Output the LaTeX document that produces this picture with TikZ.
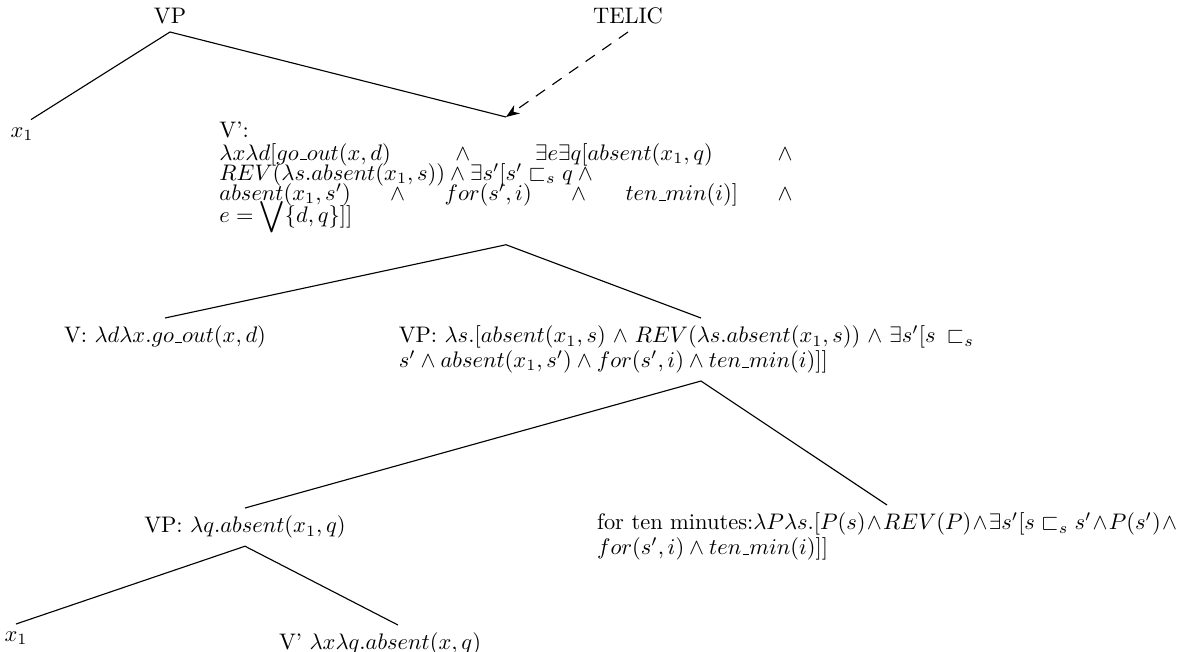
\documentclass[tikz,border=0pt]{standalone}
\usepackage{amsmath}
\usepackage{amssymb}
\usetikzlibrary{arrows.meta,positioning,calc}
\newcommand{\semtight}{\lineskiplimit=-6pt\relax\relpenalty=10000\relax\binoppenalty=10000\relax}
\newcommand{\us}{\kern.06em\vbox{\hrule width.3em}}

\begin{document}
\begin{tikzpicture}[x=0.445pt, y=-0.445pt,
    every node/.style={inner sep=3.3pt},
    branch/.style={line width=0.5pt},
    semtext/.style={align=left, font=\fontsize{10}{9}\selectfont}]
    \useasboundingbox (0,0) rectangle (1182,651);
    % Top of the tree
    \node[anchor=south] (vp) at (170,32) {VP};
    \node[anchor=south] (telic) at (628,32) {TELIC};
    \node (xa) at (22,134) {$x_1$};
    % V' with its full meaning
    \node[semtext, text width=255pt, inner ysep=2pt, anchor=north] (vbar) at (506,117) {\semtight V':\\[1pt]
        $\lambda x\lambda d[go\us out(x,d)$\hfill$\wedge$\hfill$\exists e\exists q[absent(x_1,q)$\hfill$\wedge$\\
        $REV(\lambda s.absent(x_1,s))\wedge\exists s'[s'\sqsubset_s q\wedge{}$\\
        $absent(x_1,s')$\hfill$\wedge$\hfill$for(s',i)$\hfill$\wedge$\hfill$ten\us min(i)]$\hfill$\wedge$\\[-1pt]
        $e=\smash{\displaystyle\bigvee}\{d,q\}]]$};
    \coordinate (vbarroot) at ([yshift=-5pt]vbar.south);
    % Second level
    \node[anchor=north] (vgo) at (165,318) {V: $\lambda d\lambda x.go\us out(x,d)$};
    \node[semtext, text width=261pt, anchor=north] (vps) at (692,318) {\semtight\makebox[\hsize][s]{VP: $\lambda s.[absent(x_1,s)\wedge REV(\lambda s.absent(x_1,s))\wedge\exists s'[s\sqsubset_s{}$}\\
        $s'\wedge absent(x_1,s')\wedge for(s',i)\wedge ten\us min(i)]]$};
    % Third level
    \node[anchor=north] (vpq) at (245,508) {VP: $\lambda q.absent(x_1,q)$};
    \node[semtext, text width=258pt, anchor=north] (tenmin) at (887,505) {\semtight\makebox[\hsize][s]{for~ten~minutes:$\medmuskip=1mu plus 1mu\lambda P\lambda s.[P(s)\wedge REV(P)\wedge\exists s'[s\sqsubset_s s'\wedge P(s')\wedge{}$}\\
        $for(s',i)\wedge ten\us min(i)]]$};
    % Leaves
    \node[anchor=north] (xb) at (16,624) {$x_1$};
    \node[anchor=north] (vq) at (380,625) {V' $\lambda x\lambda q.absent(x,q)$};
    % Branches
    \draw[branch] ([xshift=4pt]xa.north) -- (vp.south) -- (vbar.north);
    \draw[branch, dash pattern=on 5pt off 4pt, -{Stealth[length=6pt, width=4.5pt]}] (telic.south) -- (vbar.north);
    \draw[branch] (vgo.north) -- (vbarroot) -- ([xshift=4pt]vps.north);
    \draw[branch] (vpq.north) -- ([xshift=4pt]vps.south) -- (tenmin.north);
    \draw[branch] (xb.north) -- (vpq.south) -- ([xshift=8pt]vq.north);
\end{tikzpicture}
\end{document}
